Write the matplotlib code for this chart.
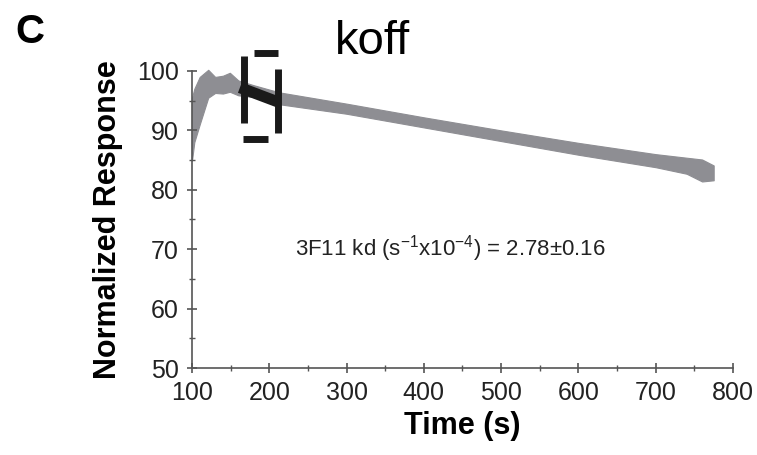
import matplotlib.pyplot as plt
from matplotlib.ticker import MultipleLocator

plt.rcParams['font.family'] = ['Liberation Sans', 'DejaVu Sans']
plt.rcParams['mathtext.fontset'] = 'custom'
plt.rcParams['mathtext.rm'] = 'Liberation Sans'
plt.rcParams['mathtext.it'] = 'Liberation Sans'

# trace envelope
time_s = [100, 103, 110, 121, 130, 140, 149, 160, 180, 213, 300, 400, 500, 600, 700, 740, 760, 775]
upper = [95.5, 97.0, 99.0, 100.2, 99.0, 99.2, 99.7, 98.4, 97.6, 96.4, 94.5, 92.2, 90.0, 87.9, 86.0, 85.4, 85.1, 84.1]
lower = [84.9, 88.0, 91.0, 95.5, 96.3, 96.2, 96.5, 95.9, 95.6, 94.4, 92.8, 90.5, 88.2, 85.9, 83.8, 82.7, 81.4, 81.6]

# highlighted fit window and dashed bracket
fit_t = [162, 213]
fit_y = [97.2, 94.7]
bracket_segments = [
    ([167, 167], [102.5, 91.3]),
    ([211, 211], [100.3, 89.6]),
    ([180, 211], [103.0, 103.0]),
    ([166, 198], [88.6, 88.6]),
]

fig = plt.figure(figsize=(7.57, 4.55), dpi=100)
ax = fig.add_axes([0.2536, 0.1912, 0.7147, 0.6528])

gray = '#8e8e93'
ax.fill_between(time_s, lower, upper, color=gray, lw=0.8, edgecolor=gray, clip_on=False)
ax.plot(fit_t, fit_y, color='#1a1a1a', lw=8, solid_capstyle='butt', clip_on=False, zorder=4)
for xs, ys in bracket_segments:
    ax.plot(xs, ys, color='#1a1a1a', lw=5, solid_capstyle='butt', clip_on=False, zorder=5)

ax.set_xlim(100, 800)
ax.set_ylim(50, 100)
ax.xaxis.set_major_locator(MultipleLocator(100))
ax.xaxis.set_minor_locator(MultipleLocator(50))
ax.yaxis.set_major_locator(MultipleLocator(10))
ax.yaxis.set_minor_locator(MultipleLocator(5))

for side in ['top', 'right']:
    ax.spines[side].set_visible(False)
for side in ['left', 'bottom']:
    ax.spines[side].set_color('#555555')
    ax.spines[side].set_linewidth(1.2)

ax.tick_params(which='major', direction='inout', length=7, width=1.2, color='#555555',
               labelsize=18, labelcolor='#222222', pad=6)
ax.tick_params(which='minor', direction='inout', length=4, width=1.0, color='#555555')

ax.set_xlabel('Time (s)', fontsize=22, fontweight='bold', labelpad=4)
ax.set_ylabel('Normalized Response', fontsize=22, fontweight='bold', labelpad=10)

ax.text(434, 70.1, '3F11 kd (s$^{-1}$x10$^{-4}$) = 2.78±0.16', fontsize=16,
        color='#222222', ha='center', va='center')

fig.text(372 / 757, 1 - 42 / 455, 'koff', fontsize=34, ha='center', va='center')
fig.text(30 / 757, 1 - 32 / 455, 'C', fontsize=29, fontweight='bold', ha='center', va='center')

fig.savefig('out.png', dpi=100)
